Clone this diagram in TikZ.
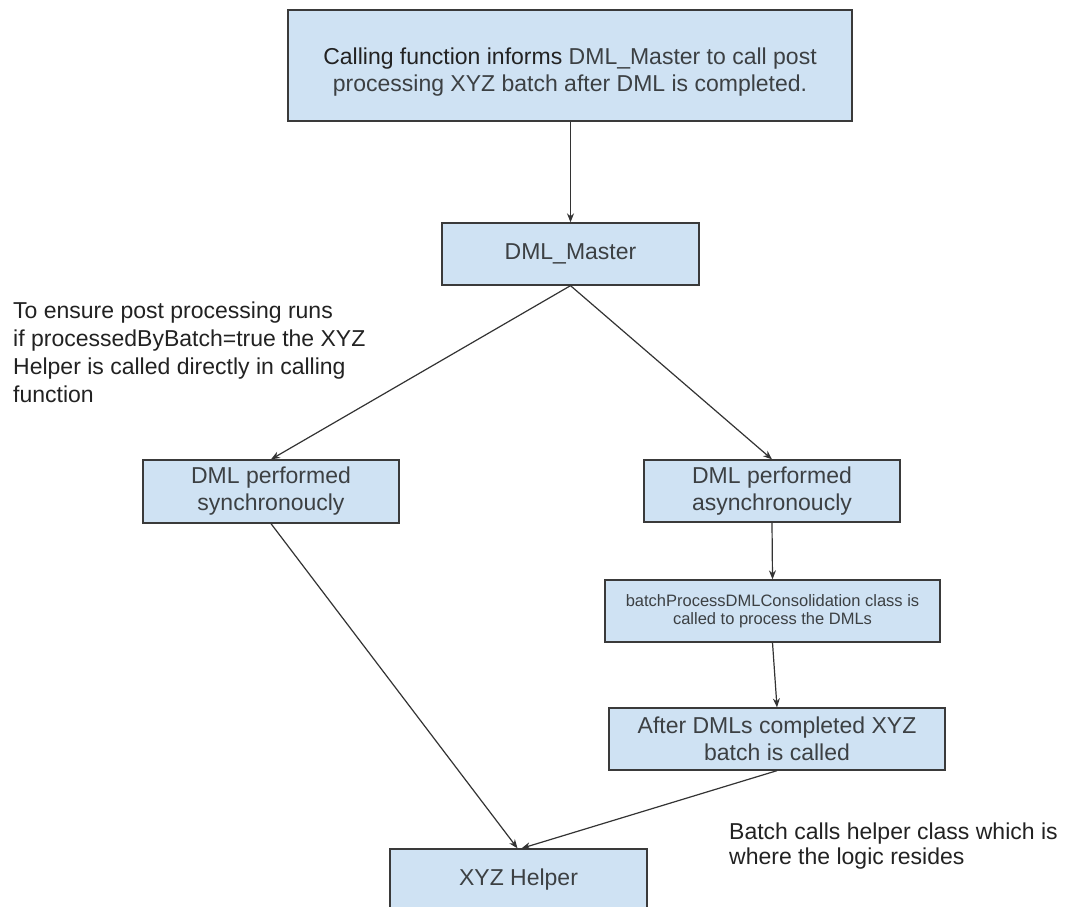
\documentclass[tikz,border=0pt]{standalone}
\usepackage{fontspec}
\setmainfont{Liberation Sans}
\usetikzlibrary{arrows.meta}
\definecolor{boxfill}{HTML}{CFE2F3}
\definecolor{boxline}{HTML}{3A3A3A}
\definecolor{boxtext}{HTML}{3C4043}
\definecolor{annot}{HTML}{222222}
\definecolor{linecol}{HTML}{333333}
\begin{document}
\begin{tikzpicture}[x=1pt,y=-1pt,
  flowbox/.style={draw=boxline, line width=1.3pt, fill=boxfill, text=boxtext, align=center, inner sep=0pt, font=\fontsize{23}{27}\selectfont},
  smallbox/.style={flowbox, font=\fontsize{16.5}{18}\selectfont},
  arr/.style={draw=linecol, line width=1.2pt, -{Stealth[length=9pt,width=7pt]}},
  note/.style={text=annot, align=left, inner sep=0pt, font=\fontsize{23}{28}\selectfont},
  note2/.style={note, font=\fontsize{23}{25}\selectfont}]
\useasboundingbox (0,0) rectangle (1081,907);
\clip (0,0) rectangle (1081,907);
\fill[white] (0,0) rectangle (1081,907);

\node[flowbox, minimum width=564pt, minimum height=111pt] (top) at (570,65.5)
  {\rule{0pt}{29pt}{\color{annot}Calling function informs} DML\_Master to call post\\processing XYZ batch after DML is completed.};
\node[flowbox, minimum width=257pt, minimum height=62pt] (master) at (570.5,254) {DML\_Master};
\node[flowbox, minimum width=256pt, minimum height=63pt] (sync) at (271,491.5) {DML performed\\synchronoucly};
\node[flowbox, minimum width=256pt, minimum height=62pt] (async) at (772,491) {DML performed\\asynchronoucly};
\node[smallbox, minimum width=335pt, minimum height=62pt] (batch) at (772.5,611) {batchProcessDMLConsolidation class is\\called to process the DMLs};
\node[flowbox, minimum width=336pt, minimum height=62pt] (after) at (777,739) {After DMLs completed XYZ\\batch is called};
\node[flowbox, minimum width=257pt, minimum height=62pt] (helper) at (518.5,880) {XYZ Helper};

\node[note, anchor=north west] (n1) at (13,302) {To ensure post processing runs\\if processedByBatch=true the XYZ\\Helper is called directly in calling\\function};
\node[note2, anchor=north west] (n2) at (729,823) {Batch calls helper class which is\\where the logic resides};

\draw[arr] (top.south -| master.north) -- (master.north);
\draw[arr] (master.south) -- (sync.north);
\draw[arr] (master.south) -- (async.north);
\draw[arr] (async.south) -- (batch.north);
\draw[arr] (batch.south) -- (after.north);
\draw[arr] (sync.south) -- ([xshift=-1pt]helper.north);
\draw[arr] (after.south) -- ([xshift=3pt]helper.north);
\end{tikzpicture}
\end{document}
